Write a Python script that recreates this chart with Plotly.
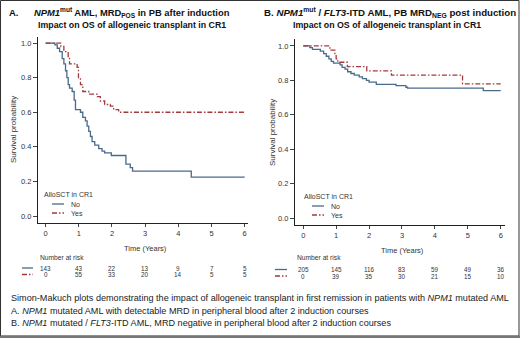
import plotly.graph_objects as go

# ---------------- data ----------------
years = [0, 1, 2, 3, 4, 5, 6]

a_no_t = [0, 0.28, 0.35, 0.42, 0.50, 0.55, 0.60, 0.64, 0.68, 0.72, 0.80, 0.86, 0.90, 1.05, 1.12,
          1.20, 1.25, 1.30, 1.35, 1.40, 1.48, 1.60, 1.70, 1.78, 1.98, 2.42, 2.55, 2.62, 4.39, 6.0]
a_no_s = [1.0, 0.99, 0.97, 0.95, 0.91, 0.88, 0.84, 0.80, 0.76, 0.74, 0.72, 0.67, 0.615, 0.60, 0.57,
          0.55, 0.52, 0.49, 0.46, 0.43, 0.41, 0.39, 0.375, 0.365, 0.35, 0.30, 0.28, 0.26, 0.225, 0.225]
a_yes_t = [0, 0.46, 0.55, 0.68, 0.72, 0.95, 0.99, 1.05, 1.12, 1.30, 1.55, 1.65, 1.78, 1.95, 2.05, 2.20, 6.0]
a_yes_s = [1.0, 0.98, 0.95, 0.92, 0.88, 0.86, 0.80, 0.76, 0.72, 0.705, 0.69, 0.665, 0.645, 0.635, 0.615, 0.60, 0.60]

b_no_t = [0, 0.2, 0.28, 0.52, 0.62, 0.70, 0.78, 0.85, 0.92, 1.12, 1.18, 1.27, 1.35, 1.45, 1.55,
          1.70, 1.80, 1.92, 2.00, 2.22, 2.82, 3.12, 3.17, 5.47, 6.0]
b_no_s = [1.0, 0.99, 0.98, 0.97, 0.955, 0.94, 0.925, 0.91, 0.90, 0.89, 0.875, 0.865, 0.85, 0.84, 0.83,
          0.82, 0.81, 0.80, 0.79, 0.777, 0.77, 0.76, 0.755, 0.74, 0.74]
b_yes_t = [0, 0.81, 0.96, 1.00, 1.05, 1.34, 1.93, 2.68, 4.84, 6.0]
b_yes_s = [1.0, 0.975, 0.95, 0.925, 0.905, 0.88, 0.855, 0.83, 0.78, 0.78]

a_risk_no = [143, 43, 22, 13, 9, 7, 5]
a_risk_yes = [0, 55, 33, 20, 14, 5, 5]
b_risk_no = [205, 145, 116, 83, 59, 49, 36]
b_risk_yes = [0, 39, 35, 30, 21, 15, 10]

legend_title = "AlloSCT in CR1"
group_names = ["No", "Yes"]

# ---------------- styling ----------------
W, H = 520, 338
FONT = "Arial, Liberation Sans, sans-serif"
C_NO = "#4a6a89"
C_YES = "#a33a3c"
DASH_YES = "5px,2px,1.5px,2px"
TXT = "#333333"


def px(x):
    return x / W


def py(y):
    return 1 - y / H


fig = go.Figure()

panels = [
    dict(xa="x", ya="y", xd=[38, 248], yd=[37, 223], xr=[-0.23, 6.1], yr=[-0.04, 1.035],
         no=(a_no_t, a_no_s), yes=(a_yes_t, a_yes_s), rn=a_risk_no, ry=a_risk_yes,
         ytitle_x=13, ytitle_y=130, xtitle_y=248,
         leg_x=42, leg_y=194, nar_y=257, row1=268, row2=274.5, samp=(22, 33)),
    dict(xa="x2", ya="y2", xd=[295, 505], yd=[39, 225], xr=[-0.25, 6.13], yr=[-0.039, 1.04],
         no=(b_no_t, b_no_s), yes=(b_yes_t, b_yes_s), rn=b_risk_no, ry=b_risk_yes,
         ytitle_x=272, ytitle_y=133, xtitle_y=250,
         leg_x=302, leg_y=196, nar_y=257, row1=269.5, row2=276, samp=(275, 287)),
]

annotations = []
shapes = []

for i, p in enumerate(panels):
    fig.add_trace(go.Scatter(x=p["no"][0], y=p["no"][1], mode="lines", line_shape="hv",
                             line=dict(color=C_NO, width=1.3), xaxis=p["xa"], yaxis=p["ya"],
                             name=group_names[0], showlegend=False))
    fig.add_trace(go.Scatter(x=p["yes"][0], y=p["yes"][1], mode="lines", line_shape="hv",
                             line=dict(color=C_YES, width=1.3, dash=DASH_YES), xaxis=p["xa"], yaxis=p["ya"],
                             name=group_names[1], showlegend=False))
    suffix = "" if i == 0 else "2"
    fig.layout["xaxis" + suffix] = dict(
        domain=[px(p["xd"][0]), px(p["xd"][1])], range=p["xr"], anchor="y" + suffix,
        tickvals=years, showline=True, linecolor="#222", linewidth=1.2, ticks="outside",
        ticklen=3, tickcolor="#444", showgrid=False, zeroline=False,
        tickfont=dict(family=FONT, size=7.5, color=TXT), fixedrange=True)
    fig.layout["yaxis" + suffix] = dict(
        domain=[py(p["yd"][1]), py(p["yd"][0])], range=p["yr"], anchor="x" + suffix,
        tickvals=[0, 0.2, 0.4, 0.6, 0.8, 1.0], tickformat=".1f", showline=True, linecolor="#222",
        linewidth=1.2, ticks="outside", ticklen=4, tickcolor="#444", showgrid=False, zeroline=False,
        tickfont=dict(family=FONT, size=7.5, color=TXT), fixedrange=True)

    xc = (p["xd"][0] + p["xd"][1]) / 2
    annotations.append(dict(text="Time (Years)", x=px(xc + 2), y=py(p["xtitle_y"]), xref="paper", yref="paper",
                            showarrow=False, font=dict(family=FONT, size=7.5, color=TXT),
                            xanchor="center", yanchor="middle"))
    annotations.append(dict(text="Survival probability", x=px(p["ytitle_x"]), y=py(p["ytitle_y"]),
                            xref="paper", yref="paper", textangle=-90, showarrow=False,
                            font=dict(family=FONT, size=8, color=TXT), xanchor="center", yanchor="middle"))
    # legend
    annotations.append(dict(text=legend_title, x=px(p["leg_x"]), y=py(p["leg_y"]), xref="paper", yref="paper",
                            showarrow=False, font=dict(family=FONT, size=7, color=TXT),
                            xanchor="left", yanchor="middle"))
    for k, (nm, col, dash) in enumerate([(group_names[0], C_NO, "solid"), (group_names[1], C_YES, DASH_YES)]):
        yy = p["leg_y"] + 10 + k * 9
        shapes.append(dict(type="line", xref="paper", yref="paper", x0=px(p["leg_x"] + 10), x1=px(p["leg_x"] + 22),
                           y0=py(yy), y1=py(yy), line=dict(color=col, width=1.3, dash=dash)))
        annotations.append(dict(text=nm, x=px(p["leg_x"] + 27), y=py(yy), xref="paper", yref="paper",
                                showarrow=False, font=dict(family=FONT, size=7, color=TXT),
                                xanchor="left", yanchor="middle"))
    # risk table
    annotations.append(dict(text="Number at risk", x=px(p["xd"][0]), y=py(p["nar_y"]), xref="paper", yref="paper",
                            showarrow=False, font=dict(family=FONT, size=6.7, color=TXT),
                            xanchor="left", yanchor="middle"))
    for row_y, vals, col, dash in [(p["row1"], p["rn"], C_NO, "solid"), (p["row2"], p["ry"], C_YES, DASH_YES)]:
        shapes.append(dict(type="line", xref="paper", yref="paper", x0=px(p["samp"][0]), x1=px(p["samp"][1]),
                           y0=py(row_y), y1=py(row_y), line=dict(color=col, width=1.3, dash=dash)))
        for t, v in zip(years, vals):
            annotations.append(dict(text=str(v), x=t, y=py(row_y), xref=p["xa"], yref="paper", showarrow=False,
                                    font=dict(family=FONT, size=6.3, color=TXT),
                                    xanchor="center", yanchor="middle"))

# titles
annotations += [
    dict(text="<b>A.</b>", x=px(7), y=py(13), xref="paper", yref="paper", showarrow=False,
         font=dict(family=FONT, size=9.5, color="#111"), xanchor="left", yanchor="middle"),
    dict(text="<b><i>NPM1</i><sup>mut</sup> AML, MRD<sub>POS</sub> in PB after induction</b>",
         x=px(132), y=py(13), xref="paper", yref="paper", showarrow=False,
         font=dict(family=FONT, size=9.4, color="#111"), xanchor="center", yanchor="middle"),
    dict(text="<b>Impact on OS of allogeneic transplant in CR1</b>", x=px(132), y=py(25), xref="paper",
         yref="paper", showarrow=False, font=dict(family=FONT, size=8.8, color="#111"),
         xanchor="center", yanchor="middle"),
    dict(text="<b>B. <i>NPM1</i><sup>mut</sup> / <i>FLT3</i>-ITD AML, PB MRD<sub>NEG</sub> post induction</b>",
         x=px(389.5), y=py(13), xref="paper", yref="paper", showarrow=False,
         font=dict(family=FONT, size=9.7, color="#111"), xanchor="center", yanchor="middle"),
    dict(text="<b>Impact on OS of allogeneic transplant in CR1</b>", x=px(387), y=py(25), xref="paper",
         yref="paper", showarrow=False, font=dict(family=FONT, size=8.8, color="#111"),
         xanchor="center", yanchor="middle"),
]

captions = [
    "Simon-Makuch plots demonstrating the impact of allogeneic transplant in first remission in patients with <i>NPM1</i> mutated AML",
    "A. <i>NPM1</i> mutated AML with detectable MRD in peripheral blood after 2 induction courses",
    "B. <i>NPM1</i> mutated / <i>FLT3</i>-ITD AML, MRD negative in peripheral blood after 2 induction courses",
]
for k, c in enumerate(captions):
    annotations.append(dict(text=c, x=px(9), y=py(298 + k * 12.5), xref="paper", yref="paper", showarrow=False,
                            font=dict(family=FONT, size=9.1, color="#222"), xanchor="left", yanchor="middle"))

# frame
shapes.append(dict(type="rect", xref="paper", yref="paper", x0=px(0.5), x1=px(519), y0=py(0.5), y1=py(336),
                   line=dict(color="#333", width=1)))
shapes.append(dict(type="line", xref="paper", yref="paper", x0=0, x1=1, y0=py(337), y1=py(337),
                   line=dict(color="#777", width=2.5)))

fig.update_layout(width=W, height=H, margin=dict(l=0, r=0, t=0, b=0), paper_bgcolor="white",
                  plot_bgcolor="white", showlegend=False, annotations=annotations, shapes=shapes,
                  font=dict(family=FONT))

fig.write_html("out.html", config={"displayModeBar": False},
               post_script="document.body.style.margin='0';document.body.style.overflow='hidden';")
